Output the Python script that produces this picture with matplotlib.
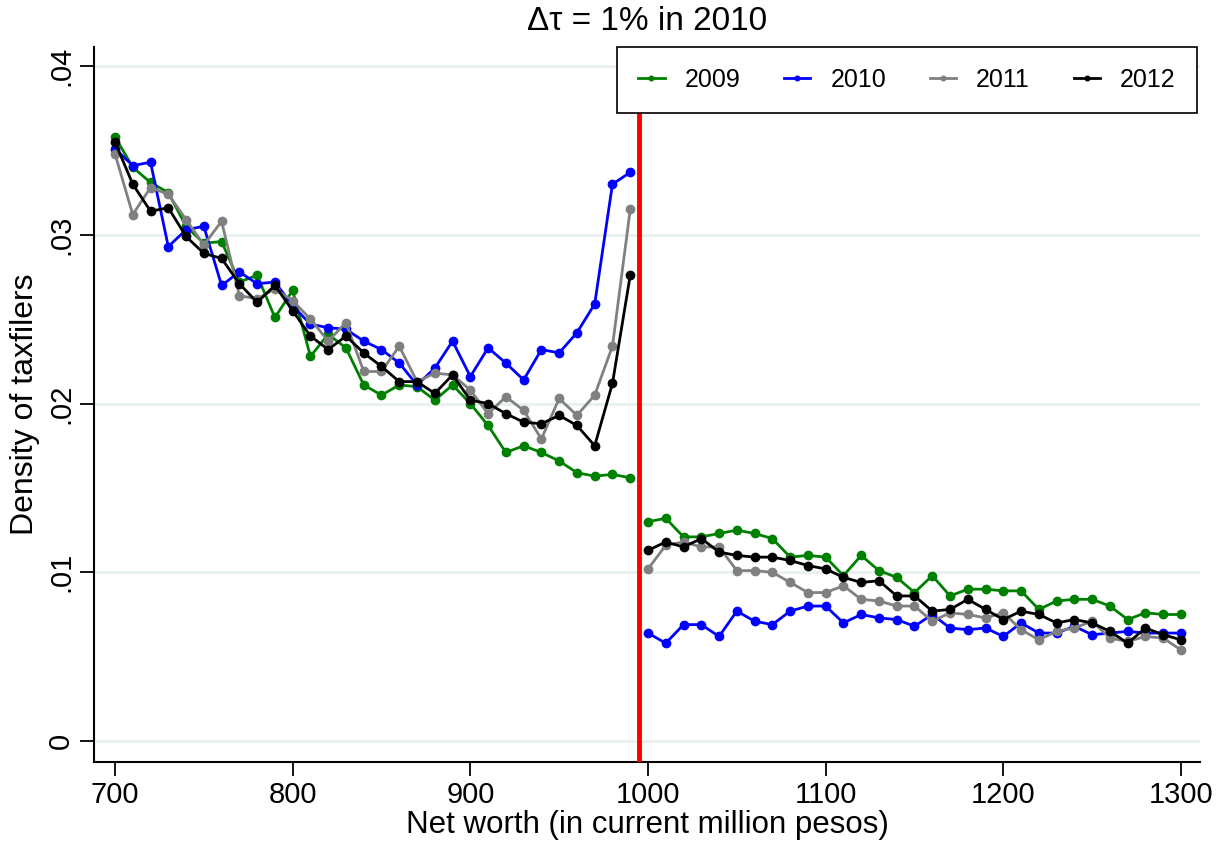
import numpy as np
import matplotlib
matplotlib.use('Agg')
import matplotlib.pyplot as plt

plt.rcParams['font.family'] = ['Liberation Sans', 'DejaVu Sans']

# Net worth bins (million pesos), below and above the 1000 threshold
x_low = list(range(700, 1000, 10))
x_high = list(range(1000, 1310, 10))

years = ['2009', '2010', '2011', '2012']
colors = ['#008000', '#0000ff', '#808080', '#000000']

# density values, below threshold
low_2009 = [0.0358, 0.0340, 0.0331, 0.0325, 0.0305, 0.0295, 0.0296, 0.0272, 0.0276, 0.0251,
            0.0267, 0.0228, 0.0241, 0.0233, 0.0211, 0.0205, 0.0211, 0.0210, 0.0202, 0.0211,
            0.0200, 0.0187, 0.0171, 0.0175, 0.0171, 0.0166, 0.0159, 0.0157, 0.0158, 0.0156]
low_2010 = [0.0351, 0.0341, 0.0343, 0.0293, 0.0303, 0.0305, 0.0270, 0.0278, 0.0271, 0.0272,
            0.0258, 0.0247, 0.0245, 0.0244, 0.0237, 0.0232, 0.0224, 0.0211, 0.0221, 0.0237,
            0.0216, 0.0233, 0.0224, 0.0214, 0.0232, 0.0230, 0.0242, 0.0259, 0.0330, 0.0337]
low_2011 = [0.0348, 0.0312, 0.0328, 0.0324, 0.0309, 0.0294, 0.0308, 0.0264, 0.0262, 0.0268,
            0.0261, 0.0250, 0.0237, 0.0248, 0.0219, 0.0219, 0.0234, 0.0213, 0.0218, 0.0217,
            0.0208, 0.0194, 0.0204, 0.0196, 0.0179, 0.0203, 0.0193, 0.0205, 0.0234, 0.0315]
low_2012 = [0.0355, 0.0330, 0.0314, 0.0316, 0.0299, 0.0289, 0.0286, 0.0271, 0.0260, 0.0270,
            0.0255, 0.0240, 0.0232, 0.0240, 0.0230, 0.0222, 0.0213, 0.0213, 0.0206, 0.0217,
            0.0202, 0.0200, 0.0194, 0.0189, 0.0188, 0.0193, 0.0187, 0.0175, 0.0212, 0.0276]

# above threshold
high_2009 = [0.0130, 0.0132, 0.0121, 0.0121, 0.0123, 0.0125, 0.0123, 0.0120, 0.0109, 0.0110,
             0.0109, 0.0098, 0.0110, 0.0101, 0.0097, 0.0088, 0.0098, 0.0086, 0.0090, 0.0090,
             0.0089, 0.0089, 0.0078, 0.0083, 0.0084, 0.0084, 0.0080, 0.0072, 0.0076, 0.0075,
             0.0075]
high_2010 = [0.0064, 0.0058, 0.0069, 0.0069, 0.0062, 0.0077, 0.0071, 0.0069, 0.0077, 0.0080,
             0.0080, 0.0070, 0.0075, 0.0073, 0.0072, 0.0068, 0.0075, 0.0067, 0.0066, 0.0067,
             0.0062, 0.0070, 0.0064, 0.0064, 0.0068, 0.0063, 0.0064, 0.0065, 0.0064, 0.0064,
             0.0064]
high_2011 = [0.0102, 0.0116, 0.0118, 0.0115, 0.0115, 0.0101, 0.0101, 0.0100, 0.0094, 0.0088,
             0.0088, 0.0092, 0.0084, 0.0083, 0.0080, 0.0080, 0.0071, 0.0076, 0.0075, 0.0073,
             0.0076, 0.0066, 0.0060, 0.0065, 0.0067, 0.0071, 0.0061, 0.0059, 0.0062, 0.0061,
             0.0054]
high_2012 = [0.0113, 0.0118, 0.0115, 0.0120, 0.0112, 0.0110, 0.0109, 0.0109, 0.0107, 0.0104,
             0.0102, 0.0097, 0.0094, 0.0095, 0.0086, 0.0086, 0.0077, 0.0078, 0.0084, 0.0078,
             0.0072, 0.0077, 0.0075, 0.0070, 0.0072, 0.0070, 0.0065, 0.0058, 0.0067, 0.0063,
             0.0060]

low_series = [low_2009, low_2010, low_2011, low_2012]
high_series = [high_2009, high_2010, high_2011, high_2012]

threshold = 995
x_ticks = [700, 800, 900, 1000, 1100, 1200, 1300]
y_ticks = [0, 0.01, 0.02, 0.03, 0.04]
y_ticklabels = ['0', '.01', '.02', '.03', '.04']

fig = plt.figure(figsize=(12.26, 8.51), dpi=100)
ax = fig.add_axes([0.0767, 0.1046, 0.9021, 0.8402])

for yr, col, lo, hi in zip(years, colors, low_series, high_series):
    ax.plot(x_low, lo, color=col, lw=2.0, marker='o', ms=6, label=yr, zorder=3)
    ax.plot(x_high, hi, color=col, lw=2.0, marker='o', ms=6, zorder=3)

ax.axvline(threshold, color='#ff0000', lw=3.5, zorder=4)

ax.set_xlim(688.2, 1310.7)
ax.set_ylim(-0.00124, 0.04113)
ax.set_xticks(x_ticks)
ax.set_yticks(y_ticks)
ax.set_yticklabels(y_ticklabels, rotation=90, va='center')
ax.tick_params(axis='both', labelsize=21, length=10, width=1.3, direction='out')
ax.yaxis.grid(True, color='#e8f0f2', lw=2)
ax.set_axisbelow(True)
for side in ['top', 'right']:
    ax.spines[side].set_visible(False)
for side in ['left', 'bottom']:
    ax.spines[side].set_linewidth(1.5)

ax.set_xlabel('Net worth (in current million pesos)', fontsize=22.5, labelpad=1)
ax.set_ylabel('Density of taxfilers', fontsize=23, labelpad=5)
ax.set_title('\u0394\u03c4 = 1% in 2010', fontsize=24, pad=12)

leg = ax.legend(loc='upper right', ncol=4, fontsize=18, frameon=True, fancybox=False,
                edgecolor='black', framealpha=1.0, handlelength=1.05, columnspacing=1.75,
                handletextpad=0.8, markerscale=0.55, borderpad=0.85, borderaxespad=0,
                bbox_to_anchor=(0.997, 1.0))
leg.get_frame().set_linewidth(1.2)
leg.set_zorder(5)

fig.savefig('out.png', dpi=100, facecolor='white')
